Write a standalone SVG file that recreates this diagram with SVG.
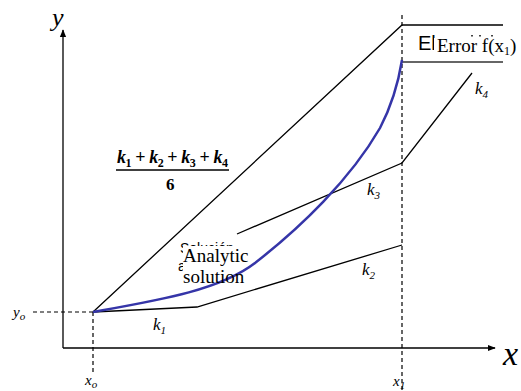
<svg xmlns="http://www.w3.org/2000/svg" width="521" height="391" viewBox="0 0 521 391">
<defs>
<style>
.ln{stroke:#000;stroke-width:1.3;fill:none}
.ds{stroke:#000;stroke-width:1.2;fill:none;stroke-dasharray:4,3}
text{fill:#000}
.it{font-style:italic}
.sub{font-size:11px}
</style>
<marker id="arr" viewBox="0 0 10 10" refX="9" refY="5" markerWidth="8" markerHeight="8" markerUnits="userSpaceOnUse" orient="auto">
<path d="M0,1 L10,5 L0,9 Z" fill="#000"/>
</marker>
</defs>
<rect width="521" height="391" fill="#fff"/>
<g id="axes">
<line class="ln" x1="63" y1="348" x2="63" y2="30" marker-end="url(#arr)"/>
<line class="ln" x1="63" y1="348" x2="495" y2="348" marker-end="url(#arr)"/>
<text font-family="Liberation Serif, DejaVu Serif, serif" class="it" x="52" y="26" font-size="26">y</text>
<text font-family="Liberation Serif, DejaVu Serif, serif" class="it" x="503" y="365" font-size="34">x</text>
</g>
<g id="guides">
<line class="ds" x1="402" y1="15" x2="402" y2="391"/>
<line class="ds" x1="33" y1="312" x2="93" y2="312"/>
<line class="ds" x1="93" y1="312" x2="93" y2="372"/>
<text font-family="Liberation Serif, DejaVu Serif, serif" class="it" x="13" y="317" font-size="15">y<tspan class="sub" dy="3">o</tspan></text>
<text font-family="Liberation Serif, DejaVu Serif, serif" class="it" x="85" y="385" font-size="15">x<tspan class="sub" dy="3">o</tspan></text>
<text font-family="Liberation Serif, DejaVu Serif, serif" class="it" x="393" y="386" font-size="15">x<tspan class="sub" dy="3">1</tspan></text>
</g>
<g id="hidden-labels">
<text font-family="Liberation Sans, DejaVu Sans, sans-serif" x="180" y="253" font-size="14" fill="#222">Solución</text>
<text font-family="Liberation Sans, DejaVu Sans, sans-serif" x="178" y="271" font-size="14" fill="#222">analítica</text>
<rect x="183" y="246" width="68" height="44" fill="#fff"/>
<text font-family="Liberation Sans, DejaVu Sans, sans-serif" x="418" y="50" font-size="20">El error</text>
<rect x="434" y="38" width="87" height="22" fill="#fff"/>
<rect x="471" y="35" width="2" height="1.5" fill="#444"/>
<rect x="479" y="35" width="2" height="1.5" fill="#444"/>
<rect x="491" y="35" width="2" height="1.5" fill="#444"/>
</g>
<g id="connectors">
<polyline class="ln" points="93,312 402,25 503,25"/>
<polyline class="ln" points="93,312 197,307 402,245"/>
<polyline class="ln" points="237,234 402,163 472,73"/>
<line x1="402" y1="62" x2="503" y2="62" stroke="#333" stroke-width="1.6"/>
<path d="M93,312 C160,300 220,290 255,263 C300,228 350,180 380,128 C392,105 398,85 402,60" fill="none" stroke="#3535a8" stroke-width="2.5"/>
</g>
<g id="labels">
<text font-family="Liberation Serif, DejaVu Serif, serif" x="183" y="262" font-size="19">Analytic</text>
<text font-family="Liberation Serif, DejaVu Serif, serif" x="183" y="283" font-size="19">solution</text>
<text font-family="Liberation Serif, DejaVu Serif, serif" x="437" y="52" font-size="19">Error f(x<tspan font-size="12" dy="3">1</tspan><tspan dy="-3">)</tspan></text>
<text font-family="Liberation Serif, DejaVu Serif, serif" class="it" x="153" y="330" font-size="17">k<tspan class="sub" dy="4">1</tspan></text>
<text font-family="Liberation Serif, DejaVu Serif, serif" class="it" x="362" y="275" font-size="17">k<tspan class="sub" dy="4">2</tspan></text>
<text font-family="Liberation Serif, DejaVu Serif, serif" class="it" x="367" y="195" font-size="17">k<tspan class="sub" dy="4">3</tspan></text>
<text font-family="Liberation Serif, DejaVu Serif, serif" class="it" x="475" y="94" font-size="17">k<tspan class="sub" dy="4">4</tspan></text>
</g>
<g id="formula">
<text font-family="Liberation Serif, DejaVu Serif, serif" x="117" y="163" font-size="18" font-weight="bold" textLength="111" lengthAdjust="spacing"><tspan font-style="italic">k</tspan><tspan font-size="12" dy="4">1</tspan><tspan dy="-4"> + </tspan><tspan font-style="italic">k</tspan><tspan font-size="12" dy="4">2</tspan><tspan dy="-4"> + </tspan><tspan font-style="italic">k</tspan><tspan font-size="12" dy="4">3</tspan><tspan dy="-4"> + </tspan><tspan font-style="italic">k</tspan><tspan font-size="12" dy="4">4</tspan></text>
<line x1="116" y1="170" x2="229" y2="170" stroke="#000" stroke-width="1.4"/>
<text font-family="Liberation Serif, DejaVu Serif, serif" x="166" y="190" font-size="17" font-weight="bold">6</text>
</g>
</svg>
